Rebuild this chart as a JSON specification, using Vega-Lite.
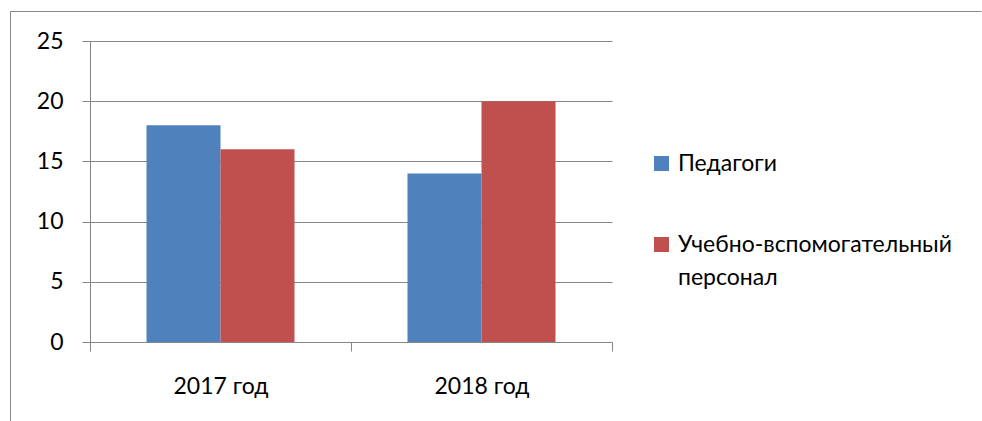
{
  "$schema": "https://vega.github.io/schema/vega-lite/v6.json",
  "width": 972,
  "height": 410,
  "autosize": "none",
  "padding": {"left": 10, "top": 11, "right": 0, "bottom": 0},
  "background": "white",
  "config": {
    "view": {"stroke": "#898989", "strokeWidth": 1, "strokeDash": [971, 1383, 410]},
    "font": "Lato",
    "style": {"guide-label": {"lineHeight": 33}}
  },
  "data": {
    "values": [
      {"year": "2017 год", "group": "Педагоги", "value": 18},
      {"year": "2017 год", "group": "Учебно-вспомогательный персонал", "value": 16},
      {"year": "2018 год", "group": "Педагоги", "value": 14},
      {"year": "2018 год", "group": "Учебно-вспомогательный персонал", "value": 20}
    ]
  },
  "mark": {"type": "bar"},
  "encoding": {
    "x": {
      "field": "year",
      "type": "nominal",
      "scale": {"range": [80, 602], "paddingInner": 0, "paddingOuter": 0},
      "axis": {
        "title": null,
        "offset": -79,
        "tickBand": "extent",
        "tickSize": 9,
        "tickColor": "#868686",
        "domainColor": "#868686",
        "labelAngle": 0,
        "labelFont": "Lato",
        "labelFontSize": 23,
        "labelColor": "black",
        "labelPadding": 24,
        "grid": false
      }
    },
    "xOffset": {
      "field": "group",
      "scale": {"paddingInner": 0, "paddingOuter": 0.7635}
    },
    "y": {
      "field": "value",
      "type": "quantitative",
      "scale": {"domain": [0, 25], "range": [331, 30], "nice": false, "zero": true},
      "axis": {
        "title": null,
        "offset": -80,
        "values": [0, 5, 10, 15, 20, 25],
        "grid": true,
        "gridColor": "#868686",
        "gridOpacity": 1,
        "domainColor": "#868686",
        "tickColor": "#868686",
        "tickSize": 8,
        "labelPadding": 19,
        "labelFont": "Lato",
        "labelFontSize": 23,
        "labelColor": "black"
      }
    },
    "color": {
      "field": "group",
      "type": "nominal",
      "scale": {
        "domain": ["Педагоги", "Учебно-вспомогательный персонал"],
        "range": ["#4F81BD", "#C0504D"]
      },
      "legend": {
        "title": null,
        "orient": "none",
        "legendX": 640,
        "legendY": 141,
        "padding": 0,
        "symbolType": "square",
        "symbolSize": 225,
        "symbolStrokeWidth": 0,
        "labelFont": "Lato",
        "labelFontSize": 23,
        "labelColor": "black",
        "labelOffset": 5,
        "labelLimit": 500,
        "rowPadding": 57,
        "labelExpr": "datum.label == 'Учебно-вспомогательный персонал' ? ['Учебно-вспомогательный', 'персонал'] : datum.label"
      }
    }
  }
}
